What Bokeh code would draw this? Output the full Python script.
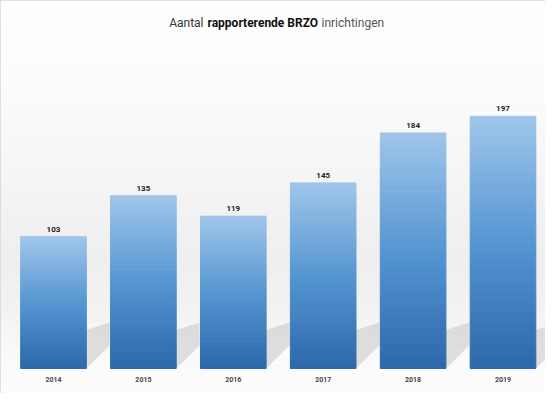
import numpy as np
from bokeh.plotting import figure
from bokeh.models import Range1d, FixedTicker, Label
from bokeh.core.properties import value
from bokeh.embed import file_html
from bokeh.resources import INLINE

# ---- data ----
years = ["2014", "2015", "2016", "2017", "2018", "2019"]
counts = [103, 135, 119, 145, 184, 197]
title_parts = ["Aantal", "rapporterende BRZO", "inrichtingen"]

# ---- layout constants (pixels) ----
W, H = 545, 393
PX_PER_CAT = 89.9
X0 = 53.0          # pixel x of first category centre
BASE = 368.0       # pixel y of value 0 (from top)
PX_PER_UNIT = 1.28
BAR_W = 0.73
FONT = "Roboto"

x_start = -X0 / PX_PER_CAT
x_end = (W - X0) / PX_PER_CAT
y_start = -(H - BASE) / PX_PER_UNIT
y_end = BASE / PX_PER_UNIT


def px_x(px):
    return (px - X0) / PX_PER_CAT


def px_y(py):
    return (BASE - py) / PX_PER_UNIT


p = figure(width=W, height=H, x_range=Range1d(x_start, x_end),
           y_range=Range1d(y_start, y_end), output_backend="svg",
           toolbar_location=None, min_border=0)
p.background_fill_color = "white"
p.border_fill_color = "white"
p.outline_line_color = "#d6d6d6"
p.outline_line_width = 3
p.grid.visible = False
p.yaxis.visible = False

# ---- background vertical gradient ----
stops_px = [0, 90, 180, 260, 310, 350, 393]
stops_v = [255, 252, 245, 239, 243, 250, 253]
rows = np.arange(H)
vals = np.interp(rows, stops_px, stops_v).astype(np.uint32)[::-1]  # bottom row first
img = (255 << 24) | (vals << 16) | (vals << 8) | vals
img = img.reshape(H, 1).astype(np.uint32)
p.image_rgba(image=[img], x=x_start, y=y_start, dw=x_end - x_start, dh=y_end - y_start)

# ---- shadows behind bars ----
idx = list(range(len(years)))
sh_w = 0.26
xs_sh, ys_sh = [], []
for i in idx:
    r = i + BAR_W / 2
    xs_sh.append([r, r, r + sh_w, r + sh_w])
    ys_sh.append([0, 30, 36, 18])
p.patches(xs_sh, ys_sh, fill_color="#bdbdbd", fill_alpha=0.45, line_color=None)

# ---- gradient bars ----
N = 40
c_bot = np.array([44, 104, 170])
c_mid = np.array([86, 150, 210])
c_top = np.array([160, 198, 234])
lefts, rights, bottoms, tops, colors = [], [], [], [], []
for i, v in zip(idx, counts):
    for k in range(N):
        f = (k + 0.5) / N
        if f < 0.5:
            c = c_bot + (c_mid - c_bot) * (f / 0.5)
        else:
            c = c_mid + (c_top - c_mid) * ((f - 0.5) / 0.5)
        c = c.astype(int)
        lefts.append(i - BAR_W / 2)
        rights.append(i + BAR_W / 2)
        bottoms.append(v * k / N)
        tops.append(v * (k + 1) / N)
        colors.append("#%02x%02x%02x" % tuple(c))
p.quad(left=lefts, right=rights, bottom=bottoms, top=tops,
       fill_color=colors, line_color=colors, line_width=1)

# ---- value labels ----
p.text(x=idx, y=counts, text=[str(c) for c in counts], y_offset=-5,
       text_align="center", text_baseline="bottom", text_font_size="8px",
       text_font_style="bold", text_color="#222222", text_font=value(FONT))

# ---- x axis with years ----
p.xaxis.fixed_location = 0
p.xaxis.ticker = FixedTicker(ticks=idx)
p.xaxis.major_label_overrides = {i: y for i, y in zip(idx, years)}
p.xaxis.axis_line_color = None
p.xaxis.major_tick_line_color = None
p.xaxis.minor_tick_line_color = None
p.xaxis.major_tick_out = 0
p.xaxis.major_label_standoff = 8
p.xaxis.major_label_text_font_size = "7px"
p.xaxis.major_label_text_font = FONT
p.xaxis.major_label_text_font_style = "bold"
p.xaxis.major_label_text_color = "#444444"

# ---- title in three styled pieces ----
ty = px_y(22)
p.add_layout(Label(x=px_x(203), y=ty, text=title_parts[0], text_font=FONT,
                   text_font_size="12px", text_color="#333333",
                   text_baseline="middle", text_align="right"))
p.add_layout(Label(x=px_x(207), y=ty, text=title_parts[1], text_font=FONT,
                   text_font_size="12px", text_font_style="bold",
                   text_color="#111111", text_baseline="middle", text_align="left"))
p.add_layout(Label(x=px_x(321), y=ty, text=title_parts[2], text_font=FONT,
                   text_font_size="12px", text_color="#555555",
                   text_baseline="middle", text_align="left"))

open("out.html", "w").write(file_html(p, INLINE))
